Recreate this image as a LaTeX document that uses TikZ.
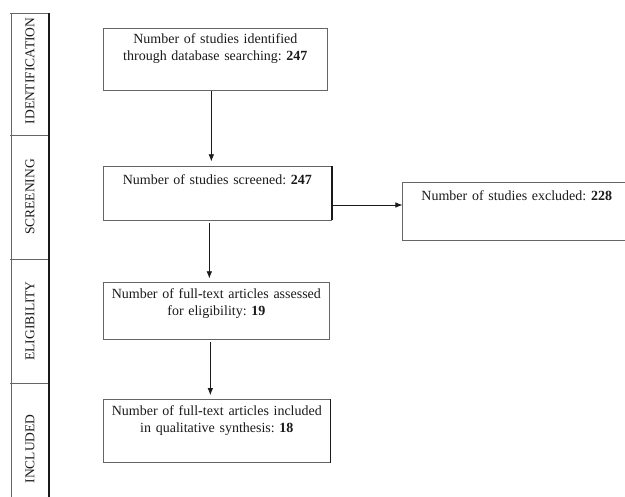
\documentclass[tikz,border=0pt]{standalone}
\usepackage{fontspec}
\setmainfont{Liberation Serif}
\frenchspacing
\usetikzlibrary{positioning,arrows.meta}
\definecolor{framegray}{HTML}{666666}
\definecolor{inkgray}{HTML}{1A1A1A}
\begin{document}
\begin{tikzpicture}[x=1pt, y=-1pt,
			stepbox/.style = {shape=rectangle, draw=framegray, line width=0.7pt,
				inner sep=0pt, align=center, text=inkgray, anchor=north west,
				font=\fontsize{14}{17}\selectfont},
			flow/.style = {draw=inkgray, line width=0.7pt, -{Latex[length=7pt,width=5.5pt]}},
			phase/.style = {rotate=90, text=inkgray, font=\fontsize{13.5}{16}\selectfont}]
			\useasboundingbox (0,0) rectangle (625,497);
			% phase bar on the left
			\foreach \ypos in {13,135,259,383} \draw[framegray, line width=0.7pt] (10,\ypos) -- (50,\ypos);
			\draw[framegray, line width=0.7pt] (11,13) -- (11,497);
			\draw[inkgray, line width=1.8pt] (49,13) -- (49,497);
			\foreach \ypos/\phasename in {71/IDENTIFICATION, 197/SCREENING, 321/ELIGIBILITY, 449/INCLUDED}
				\node[phase] (\phasename) at (30,\ypos) {\phasename};
			% flow boxes
			\node[stepbox, text width=224pt, text height=15.3pt, text depth=47pt] (ident) at (103,27.7) {Number of studies identified\\through database searching: \textbf{247}};
			\node[stepbox, text width=228pt, text height=17.3pt, text depth=36pt, below=75.7pt of ident.south west, anchor=north west] (screen) {Number of studies screened: \textbf{247}};
			\node[stepbox, text width=228pt, text height=17.3pt, text depth=40pt, right=70.7pt of screen.north east, anchor=north west, yshift=-16pt] (excl) {Number of studies excluded: \textbf{228}};
			\node[stepbox, text width=226pt, text height=16pt, text depth=41pt, below=62pt of screen.south west, anchor=north west] (elig) {Number of full\textbf{-}text articles assessed\\for eligibility: \textbf{19}};
			\node[stepbox, text width=227pt, text height=16pt, text depth=47pt, below=59pt of elig.south west, anchor=north west] (incl) {Number of full\textbf{-}text articles included\\in qualitative synthesis: \textbf{18}};
			\draw[inkgray, line width=1.6pt] (screen.north east) -- (screen.south east);
			\draw[inkgray, line width=1.4pt] (incl.north east) -- (incl.south east);
			% arrows
			\draw[flow, shorten >=5pt] ([xshift=-4pt]ident.south) -- ([xshift=-6pt]screen.north);
			\draw[flow, shorten <=3pt, shorten >=4pt] ([xshift=-8pt]screen.south) -- ([xshift=-7pt]elig.north);
			\draw[flow, shorten <=2pt, shorten >=4pt] ([xshift=-6pt]elig.south) -- ([xshift=-6.5pt]incl.north);
			\draw[flow] ([yshift=-11.6pt]screen.east) -- ([yshift=6.4pt]excl.west);
		\end{tikzpicture}
\end{document}
